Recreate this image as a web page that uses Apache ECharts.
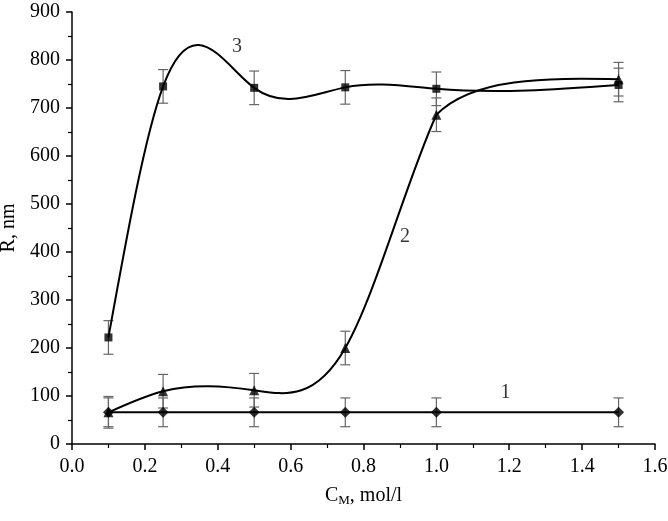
<!DOCTYPE html>
<html>
<head>
<meta charset="utf-8">
<script src="https://cdn.jsdelivr.net/npm/echarts@6/dist/echarts.min.js"></script>
<style>html,body{margin:0;padding:0;background:#fff;}#c{width:668px;height:521px;}</style>
</head>
<body>
<div id="c"></div>
<script>
// Data
var xValues = [0.1, 0.25, 0.5, 0.75, 1.0, 1.5];
var curve1 = [66, 66, 66, 66, 66, 66];
var curve2 = [66, 110, 112, 200, 686, 760];
var curve3 = [222, 745, 742, 743, 740, 748];
var err1 = [30, 30, 30, 30, 30, 30];
var err2 = [33, 35, 35, 35, 35, 35];
var err3 = [35, 35, 35, 35, 35, 35];
var curveLabels = ['1', '2', '3'];
var labelPos = [[1.19, 106], [0.914, 432], [0.453, 828]];

var FONT = 'Liberation Serif';

// natural cubic spline: second derivatives for values v over parameter t
function naturalM(t, v) {
  var n = t.length, h = [], i;
  for (i = 0; i < n - 1; i++) h.push(t[i + 1] - t[i]);
  var a = [], b = [], c = [], d = [];
  for (i = 0; i < n; i++) {
    if (i === 0 || i === n - 1) { a.push(0); b.push(1); c.push(0); d.push(0); }
    else {
      a.push(h[i - 1]); b.push(2 * (h[i - 1] + h[i])); c.push(h[i]);
      d.push(6 * ((v[i + 1] - v[i]) / h[i] - (v[i] - v[i - 1]) / h[i - 1]));
    }
  }
  for (i = 1; i < n; i++) {
    var m = a[i] / b[i - 1];
    b[i] -= m * c[i - 1]; d[i] -= m * d[i - 1];
  }
  var M = new Array(n);
  M[n - 1] = d[n - 1] / b[n - 1];
  for (i = n - 2; i >= 0; i--) M[i] = (d[i] - c[i] * M[i + 1]) / b[i];
  return { M: M, h: h };
}

// spline through pixel points; parameter = pixel x (function spline) or chord length (parametric)
function splineBeziers(pts, parametric) {
  var n = pts.length, t = [0], i;
  for (i = 1; i < n; i++) {
    var dx = pts[i][0] - pts[i - 1][0], dy = pts[i][1] - pts[i - 1][1];
    t.push(t[i - 1] + (parametric ? Math.sqrt(dx * dx + dy * dy) : dx));
  }
  var xs = pts.map(function (p) { return p[0]; });
  var ys = pts.map(function (p) { return p[1]; });
  var sx = naturalM(t, xs), sy = naturalM(t, ys);
  var segs = [];
  for (i = 0; i < n - 1; i++) {
    var h = sx.h[i];
    var dl = function (v, M) { return (v[i + 1] - v[i]) / h - h * (2 * M[i] + M[i + 1]) / 6; };
    var dr = function (v, M) { return (v[i + 1] - v[i]) / h + h * (M[i] + 2 * M[i + 1]) / 6; };
    var d0x = dl(xs, sx.M), d0y = dl(ys, sy.M), d1x = dr(xs, sx.M), d1y = dr(ys, sy.M);
    segs.push({
      x1: xs[i], y1: ys[i], x2: xs[i + 1], y2: ys[i + 1],
      cpx1: xs[i] + h / 3 * d0x, cpy1: ys[i] + h / 3 * d0y,
      cpx2: xs[i + 1] - h / 3 * d1x, cpy2: ys[i + 1] - h / 3 * d1y
    });
  }
  return segs;
}

// paramFrom: segments with index >= paramFrom use the parametric spline
function curveSeries(ys, paramFrom) {
  return {
    type: 'custom',
    data: xValues.map(function (x, i) { return [x, ys[i]]; }),
    z: 2,
    silent: true,
    renderItem: function (params, api) {
      var i = params.dataIndex;
      if (i >= xValues.length - 1) return null;
      var pts = xValues.map(function (x, k) { return api.coord([x, ys[k]]); });
      var segs = splineBeziers(pts, i >= paramFrom);
      return {
        type: 'bezierCurve',
        shape: segs[i],
        style: { stroke: '#000', lineWidth: 2, fill: null }
      };
    }
  };
}

function errSeries(ys, errs) {
  return {
    type: 'custom',
    data: xValues.map(function (x, i) { return [x, ys[i], errs[i]]; }),
    z: 1,
    silent: true,
    renderItem: function (params, api) {
      var x = api.value(0), y = api.value(1), e = api.value(2);
      var top = api.coord([x, y + e]), bot = api.coord([x, y - e]);
      var w = 5;
      var st = { stroke: '#666', lineWidth: 1.2 };
      return {
        type: 'group',
        children: [
          { type: 'line', shape: { x1: top[0], y1: top[1], x2: bot[0], y2: bot[1] }, style: st },
          { type: 'line', shape: { x1: top[0] - w, y1: top[1], x2: top[0] + w, y2: top[1] }, style: st },
          { type: 'line', shape: { x1: bot[0] - w, y1: bot[1], x2: bot[0] + w, y2: bot[1] }, style: st }
        ]
      };
    }
  };
}

function markerSeries(ys, symbol, size) {
  return {
    type: 'scatter',
    data: xValues.map(function (x, i) { return [x, ys[i]]; }),
    symbol: symbol,
    symbolSize: size,
    itemStyle: { color: '#000' },
    z: 3,
    silent: true
  };
}

var chart = echarts.init(document.getElementById('c'), null, { renderer: 'canvas' });
var axisCommon = {
  axisLine: { show: true, lineStyle: { color: '#000', width: 1.5 } },
  axisTick: { show: true, inside: false, length: 6, lineStyle: { color: '#000', width: 1.5 } },
  minorTick: { show: true, splitNumber: 2, length: 4, lineStyle: { color: '#000', width: 1.2 } },
  splitLine: { show: false },
  axisLabel: { color: '#000', fontFamily: FONT, fontSize: 20 }
};

chart.setOption({
  animation: false,
  backgroundColor: '#fff',
  grid: { left: 72, right: 13, top: 12, bottom: 77, containLabel: false, outerBoundsMode: 'none' },
  xAxis: Object.assign({}, axisCommon, {
    type: 'value', min: 0, max: 1.6, interval: 0.2,
    axisLabel: Object.assign({}, axisCommon.axisLabel, { margin: 13, formatter: function (v) { return v.toFixed(1); } }),
    name: '{a|C}{b|M}{a|, mol/l}',
    nameLocation: 'middle',
    nameGap: 35,
    nameTextStyle: {
      rich: {
        a: { fontFamily: FONT, fontSize: 20, color: '#000', height: 24 },
        b: { fontFamily: FONT, fontSize: 13, color: '#000', height: 24, verticalAlign: 'bottom', padding: [10, 0, 0, 0] }
      }
    }
  }),
  yAxis: Object.assign({}, axisCommon, {
    type: 'value', min: 0, max: 900, interval: 100,
    axisLabel: Object.assign({}, axisCommon.axisLabel, { margin: 12 }),
    name: 'R, nm',
    nameLocation: 'middle',
    nameGap: 48,
    nameRotate: 90,
    nameTextStyle: { fontFamily: FONT, fontSize: 20, color: '#000' }
  }),
  series: [
    errSeries(curve1, err1), errSeries(curve2, err2), errSeries(curve3, err3),
    curveSeries(curve1, 99), curveSeries(curve2, 4), curveSeries(curve3, 99),
    markerSeries(curve1, 'diamond', 11),
    markerSeries(curve2, 'triangle', 10),
    markerSeries(curve3, 'rect', 8),
    {
      type: 'scatter',
      data: labelPos,
      symbolSize: 0,
      silent: true,
      label: {
        show: true, position: 'inside',
        formatter: function (p) { return curveLabels[p.dataIndex]; },
        fontFamily: FONT, fontSize: 20, color: '#000'
      }
    }
  ]
});
</script>
</body>
</html>
